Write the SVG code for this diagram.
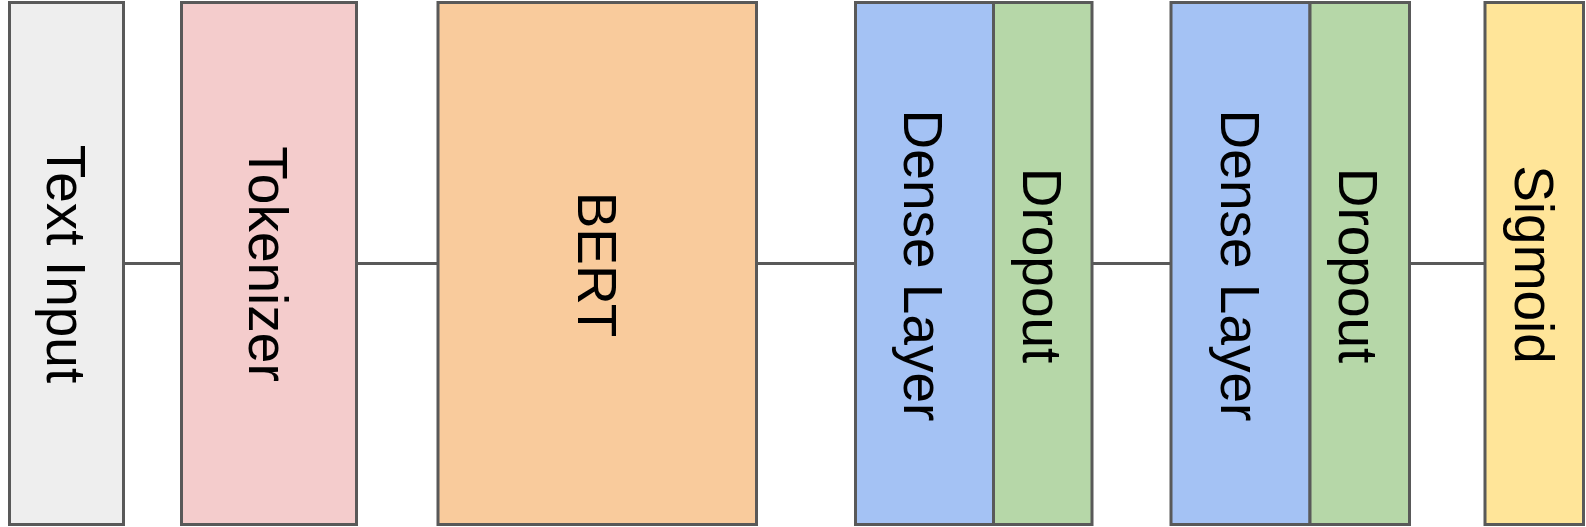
<svg xmlns="http://www.w3.org/2000/svg" width="1586" height="527" viewBox="0 0 1586 527">
<style>
.box{stroke:#595959;stroke-width:3}
.lbl{font-family:"Liberation Sans",Arial,sans-serif;font-size:55px;fill:#000;text-anchor:middle}
.conn{stroke:#595959;stroke-width:3;fill:none}
</style>
<rect width="1586" height="527" fill="#fff"/>
<g id="connectors">
<line class="conn" x1="123.5" y1="263.5" x2="181.5" y2="263.5"/>
<line class="conn" x1="356.5" y1="263.5" x2="438" y2="263.5"/>
<line class="conn" x1="756.5" y1="263.5" x2="855.5" y2="263.5"/>
<line class="conn" x1="1092" y1="263.5" x2="1171" y2="263.5"/>
<line class="conn" x1="1409.5" y1="263.5" x2="1485" y2="263.5"/>
</g>
<g id="text-input">
<rect class="box" x="9.5" y="2.5" width="114" height="522" fill="#eeeeee"/>
<text class="lbl" transform="translate(46.5,264) rotate(90)">Text Input</text>
</g>
<g id="tokenizer">
<rect class="box" x="181.5" y="2.5" width="175" height="522" fill="#f4cccc"/>
<text class="lbl" transform="translate(249,264) rotate(90)">Tokenizer</text>
</g>
<g id="bert">
<rect class="box" x="438" y="2.5" width="318.5" height="522" fill="#f9cb9c"/>
<text class="lbl" transform="translate(577.5,264.5) rotate(90)">BERT</text>
</g>
<g id="dense1">
<rect class="box" x="855.5" y="2.5" width="138" height="522" fill="#a4c2f4"/>
<text class="lbl" transform="translate(904,265.5) rotate(90)">Dense Layer</text>
</g>
<g id="dropout1">
<rect class="box" x="993.5" y="2.5" width="98.5" height="522" fill="#b6d7a8"/>
<text class="lbl" transform="translate(1022.5,265.5) rotate(90)">Dropout</text>
</g>
<g id="dense2">
<rect class="box" x="1171" y="2.5" width="139" height="522" fill="#a4c2f4"/>
<text class="lbl" transform="translate(1221,265.5) rotate(90)">Dense Layer</text>
</g>
<g id="dropout2">
<rect class="box" x="1310" y="2.5" width="99.5" height="522" fill="#b6d7a8"/>
<text class="lbl" transform="translate(1339,265.5) rotate(90)">Dropout</text>
</g>
<g id="sigmoid">
<rect class="box" x="1485" y="2.5" width="98.5" height="522" fill="#ffe599"/>
<text class="lbl" transform="translate(1515,264.5) rotate(90)">Sigmoid</text>
</g>
</svg>
